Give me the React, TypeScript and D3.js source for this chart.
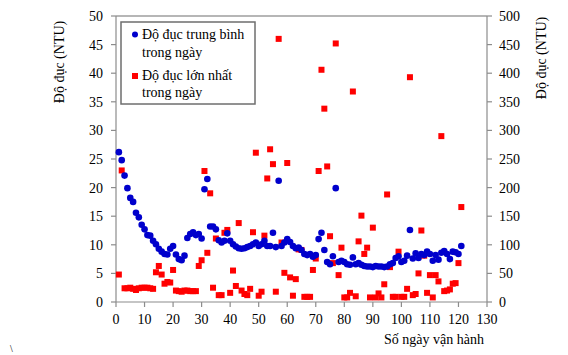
import React from "react";
import * as d3 from "d3";

const days = [
  1, 2, 3, 4, 5, 6, 7, 8, 9, 10, 11, 12, 13, 14, 15, 16, 17, 18, 19, 20,
  21, 22, 23, 24, 25, 26, 27, 28, 29, 30, 31, 32, 33, 34, 35, 36, 37, 38, 39, 40,
  41, 42, 43, 44, 45, 46, 47, 48, 49, 50, 51, 52, 53, 54, 55, 56, 57, 58, 59, 60,
  61, 62, 63, 64, 65, 66, 67, 68, 69, 70, 71, 72, 73, 74, 75, 76, 77, 78, 79, 80,
  81, 82, 83, 84, 85, 86, 87, 88, 89, 90, 91, 92, 93, 94, 95, 96, 97, 98, 99, 100,
  101, 102, 103, 104, 105, 106, 107, 108, 109, 110, 111, 112, 113, 114, 115, 116, 117, 118, 119, 120,
  121,
];

// Average turbidity per day (left axis, NTU)
const avgTurbidity = [
  26.2, 24.8, 22.1, 19.9, 18.2, 17.5, 15.6, 14.8, 13.5, 12.7, 11.7, 11.6, 10.7, 10.1, 9.3, 8.8, 8.4, 8.3, 9.3, 9.8,
  8.3, 7.5, 7.3, 8.1, 11.2, 11.9, 12.2, 11.7, 11.9, 11.1, 19.7, 21.5, 13.2, 13.2, 12.7, 10.8, 10.4, 10.7, 12.0, 10.7,
  10.1, 9.7, 9.4, 9.3, 9.4, 9.6, 9.8, 10.1, 10.4, 9.8, 10.1, 10.7, 9.8, 9.8, 12.1, 9.6, 21.2, 9.8, 10.4, 11.0,
  10.5, 9.8, 9.4, 9.5, 9.1, 8.4, 8.2, 8.4, 7.9, 8.2, 11.0, 12.1, 9.1, 7.0, 6.6, 8.0, 19.9, 7.0, 7.2, 7.0,
  6.6, 6.5, 7.8, 6.6, 6.8, 6.5, 6.3, 6.2, 6.2, 6.1, 6.3, 6.2, 6.2, 6.1, 6.2, 6.6, 6.8, 7.7, 8.0, 7.0,
  7.2, 8.1, 12.6, 7.6, 8.5, 7.7, 8.4, 8.2, 8.8, 8.4, 7.2, 8.2, 7.4, 8.6, 8.9, 8.4, 7.5, 8.8, 8.7, 8.4,
  9.8,
];

// Maximum turbidity per day (right axis, NTU)
const maxTurbidity = [
  48, 230, 24, 24, 25, 23, 21, 24, 25, 25, 25, 24, 23, 52, 63, 48, 32, 35, 34, 56,
  20, 19, 18, 20, 20, 19, 19, 19, 63, 73, 229, 86, 190, 25, 111, 12, 12, 121, 126, 16,
  55, 28, 138, 20, 14, 12, 23, 122, 261, 11, 18, 116, 216, 267, 241, 18, 460, 104, 51, 243,
  43, 11, 40, 92, 91, 9, 9, 9, 56, 76, 229, 406, 338, 237, 115, 68, 452, 47, 95, 8,
  8, 16, 368, 10, 106, 151, 84, 95, 8, 130, 8, 15, 8, 31, 188, 61, 9, 9, 88, 9,
  9, 23, 393, 12, 14, 50, 125, 81, 16, 47, 8, 47, 36, 290, 19, 20, 22, 32, 33, 68,
  166,
];

const xTicks = [0, 10, 20, 30, 40, 50, 60, 70, 80, 90, 100, 110, 120, 130];
const yLeftTicks = [0, 5, 10, 15, 20, 25, 30, 35, 40, 45, 50];
const yRightTicks = [0, 50, 100, 150, 200, 250, 300, 350, 400, 450, 500];

const legendLabels = [
  ["Độ đục trung bình", "trong ngày"],
  ["Độ đục lớn nhất", "trong ngày"],
];
const axisTitle = "Độ đục (NTU)";
const xTitle = "Số ngày vận hành";

const BLUE = "#0000CC";
const RED = "#FF0000";
const FONT = '"Liberation Serif", "DejaVu Serif", serif';

export default function App() {
  const W = 568;
  const H = 355;
  const x = d3.scaleLinear().domain([0, 130]).range([116, 487]);
  const yL = d3.scaleLinear().domain([0, 50]).range([302, 16]);
  const yR = d3.scaleLinear().domain([0, 500]).range([302, 16]);
  const [x0, x1] = x.range();
  const [yb, yt] = yL.range();
  const axisColor = "#8c8c8c";
  const sq = 6;
  const ts: React.CSSProperties = { fontFamily: FONT, fontSize: 14 };

  return (
    <svg
      width={W}
      height={H}
      style={{ position: "absolute", left: 0, top: 0, background: "#fff", fontFamily: FONT }}
    >
      {/* frame */}
      <line x1={x0} y1={yt} x2={x1} y2={yt} stroke="#6e6e6e" strokeWidth={1.2} />
      <line x1={x0} y1={yt} x2={x0} y2={yb} stroke={axisColor} strokeWidth={1.2} />
      <line x1={x1} y1={yt} x2={x1} y2={yb} stroke={axisColor} strokeWidth={1.2} />
      <line x1={x0} y1={yb} x2={x1} y2={yb} stroke={axisColor} strokeWidth={1.2} />

      {/* x ticks */}
      {xTicks.map((t) => (
        <g key={"xt" + t}>
          <line x1={x(t)} x2={x(t)} y1={yb} y2={yb + 5} stroke={axisColor} strokeWidth={1.2} />
          <text x={x(t)} y={yb + 22} textAnchor="middle" style={ts} fill="#000">
            {t}
          </text>
        </g>
      ))}

      {/* left ticks */}
      {yLeftTicks.map((t) => (
        <g key={"yl" + t}>
          <line x1={x0 - 5} x2={x0} y1={yL(t)} y2={yL(t)} stroke={axisColor} strokeWidth={1.2} />
          <text x={x0 - 13} y={yL(t) + 5} textAnchor="end" style={ts} fill="#000">
            {t}
          </text>
        </g>
      ))}

      {/* right ticks */}
      {yRightTicks.map((t) => (
        <g key={"yr" + t}>
          <line x1={x1} x2={x1 + 5} y1={yR(t)} y2={yR(t)} stroke={axisColor} strokeWidth={1.2} />
          <text x={x1 + 12} y={yR(t) + 5} textAnchor="start" style={ts} fill="#000">
            {t}
          </text>
        </g>
      ))}

      {/* axis titles */}
      <text transform="translate(64,62) rotate(-90)" textAnchor="middle" style={ts} fill="#000">
        {axisTitle}
      </text>
      <text transform="translate(546,58) rotate(-90)" textAnchor="middle" style={ts} fill="#000">
        {axisTitle}
      </text>
      <text x={434} y={344} textAnchor="middle" style={ts} fill="#000">
        {xTitle}
      </text>

      {/* red squares: max turbidity */}
      {days.map((d, i) => (
        <rect
          key={"r" + d}
          x={x(d) - sq / 2}
          y={yR(maxTurbidity[i]) - sq / 2}
          width={sq}
          height={sq}
          fill={RED}
        />
      ))}

      {/* blue circles: average turbidity */}
      {days.map((d, i) => (
        <circle key={"b" + d} cx={x(d)} cy={yL(avgTurbidity[i])} r={3.3} fill={BLUE} />
      ))}

      {/* legend */}
      <rect x={121} y={22} width={134} height={82} fill="#fff" stroke="#6e6e6e" strokeWidth={1.5} />
      <circle cx={135} cy={34.5} r={3} fill={BLUE} />
      <text x={142} y={39} style={ts} fill="#000">
        {legendLabels[0][0]}
      </text>
      <text x={142} y={57} style={ts} fill="#000">
        {legendLabels[0][1]}
      </text>
      <rect x={132} y={73} width={6} height={6} fill={RED} />
      <text x={142} y={80} style={ts} fill="#000">
        {legendLabels[1][0]}
      </text>
      <text x={142} y={97} style={ts} fill="#000">
        {legendLabels[1][1]}
      </text>

      <text x={10} y={352} style={{ fontFamily: FONT, fontSize: 10 }} fill="#000">
        {"\\"}
      </text>
    </svg>
  );
}
